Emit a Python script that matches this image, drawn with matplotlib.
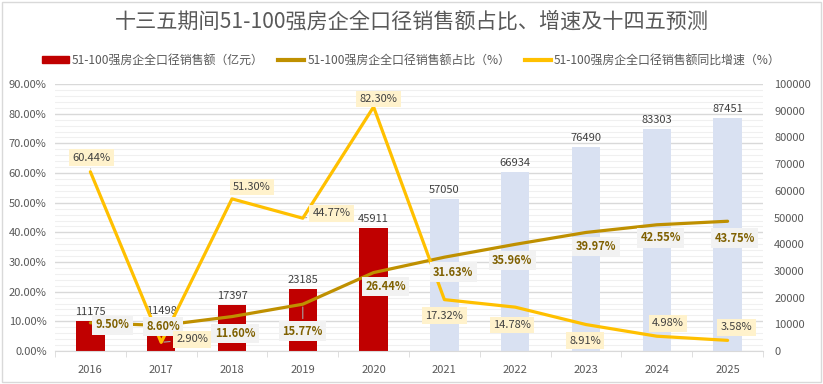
import matplotlib.pyplot as plt
from matplotlib.patches import Rectangle
import numpy as np

plt.rcParams['font.family'] = ['Noto Sans CJK SC', 'DejaVu Sans']

# === Data ===
years = ['2016', '2017', '2018', '2019', '2020', '2021', '2022', '2023', '2024', '2025']
sales = [11175, 11498, 17397, 23185, 45911, 57050, 66934, 76490, 83303, 87451]
share = [9.50, 8.60, 11.60, 15.77, 26.44, 31.63, 35.96, 39.97, 42.55, 43.75]
growth = [60.44, 2.90, 51.30, 44.77, 82.30, 17.32, 14.78, 8.91, 4.98, 3.58]

title = '十三五期间51-100强房企全口径销售额占比、增速及十四五预测'
lab_sales = '51-100强房企全口径销售额（亿元）'
lab_share = '51-100强房企全口径销售额占比（%）'
lab_growth = '51-100强房企全口径销售额同比增速（%）'

# label offsets in pixels (dx, dy)
share_off = [(22, -2), (2, -1), (3, -17), (0, -27), (12, -14),
             (9, -15), (-3, -16), (10, -14), (4, -13), (7, -17)]
growth_off = [(1, 14), (31, 3), (20, 12), (29, 5), (5, 8),
              (0, -16), (-3, -18), (-1, -16), (11, 13), (9, 13)]
growth_leader = [True, True, False, True, False, False, False, False, False, False]
share_leader = [False, False, False, True, False, False, False, False, False, False]

RED = '#C00000'
BLUE = '#D9E1F2'
GOLD = '#BF9000'
YEL = '#FFC000'
GREY = '#595959'

fig = plt.figure(figsize=(8.23, 3.84), dpi=100)
fig.patches.append(Rectangle((0.002, 0.004), 0.996, 0.992, transform=fig.transFigure,
                             fill=False, edgecolor='#D9D9D9', lw=1))
ax = fig.add_axes([0.0668, 0.086, 0.8603, 0.695])
ax2 = ax.twinx()
ax2.set_zorder(ax.get_zorder() + 1)
ax2.patch.set_visible(False)

x = np.arange(len(years))

# grid lines following percent axis, drawn behind bars
for p in np.arange(0, 91, 2):
    major = p % 10 == 0
    ax.plot([0, 1], [p / 90, p / 90], transform=ax.transAxes,
            color='#D9D9D9' if major else '#F0F0F0', lw=1.0 if major else 0.8, zorder=0)

colors = [RED] * 5 + [BLUE] * 5
ax.bar(x, sales, width=0.4, color=colors, zorder=2)
ax.set_ylim(0, 100000)
ax.set_xlim(-0.5, len(years) - 0.5)
ax.yaxis.tick_right()
ax.set_yticks(np.arange(0, 100001, 10000))
ax.tick_params(axis='y', length=0, labelsize=8, labelcolor=GREY, pad=8)
for i, v in enumerate(sales):
    ax.annotate(str(v), (x[i], v), xytext=(0, 4), textcoords='offset pixels',
                ha='center', va='bottom', fontsize=8, color='#404040', zorder=3)

ax.set_xticks(x)
ax.set_xticklabels(years)
ax.set_xticks(np.arange(-0.5, len(years)), minor=True)
ax.tick_params(axis='x', which='major', length=0, labelsize=8, labelcolor=GREY, pad=10)
ax.tick_params(axis='x', which='minor', length=4, color='#D9D9D9', direction='out')
for s in ['top', 'left', 'right']:
    ax.spines[s].set_visible(False)
    ax2.spines[s].set_visible(False)
ax.spines['bottom'].set_color('#D9D9D9')
ax2.spines['bottom'].set_visible(False)

# lines on percent axis
ax2.plot(x, share, color=GOLD, lw=2.3, zorder=4, solid_capstyle='round')
ax2.plot(x, growth, color=YEL, lw=2.3, zorder=5, solid_capstyle='round')
ax2.set_ylim(0, 90)
ax2.yaxis.tick_left()
ax2.set_yticks(np.arange(0, 91, 10))
ax2.set_yticklabels(['%.2f%%' % t for t in np.arange(0, 91, 10)])
ax2.tick_params(axis='y', length=0, labelsize=8, labelcolor=GREY, pad=6)

for i, v in enumerate(share):
    ap = dict(arrowstyle='-', color='#A6A6A6', lw=0.8) if share_leader[i] else None
    ax2.annotate('%.2f%%' % v, (x[i], v), xytext=share_off[i], textcoords='offset pixels',
                 ha='center', va='center', fontsize=8, fontweight='bold', color='#7F6000',
                 bbox=dict(boxstyle='square,pad=0.3', fc='#F2F2F2', ec='none'),
                 arrowprops=ap, zorder=6)
for i, v in enumerate(growth):
    ap = dict(arrowstyle='-', color='#A6A6A6', lw=0.8) if growth_leader[i] else None
    ax2.annotate('%.2f%%' % v, (x[i], v), xytext=growth_off[i], textcoords='offset pixels',
                 ha='center', va='center', fontsize=8, color='#404040',
                 bbox=dict(boxstyle='square,pad=0.3', fc='#FFF2CC', ec='none'),
                 arrowprops=ap, zorder=7)

fig.text(0.5, 0.943, title, ha='center', va='center', fontsize=15.2, color=GREY)

handles = [Rectangle((0, 0), 1, 1, color=RED),
           plt.Line2D([], [], color=GOLD, lw=3),
           plt.Line2D([], [], color=YEL, lw=3)]
fig.legend(handles, [lab_sales, lab_share, lab_growth], loc='center', ncol=3,
           bbox_to_anchor=(0.5, 0.843), frameon=False, fontsize=8.6,
           labelcolor=GREY, handlelength=2.2, handleheight=0.5,
           columnspacing=1.2, handletextpad=0.25)

fig.savefig('out.png', dpi=100)
